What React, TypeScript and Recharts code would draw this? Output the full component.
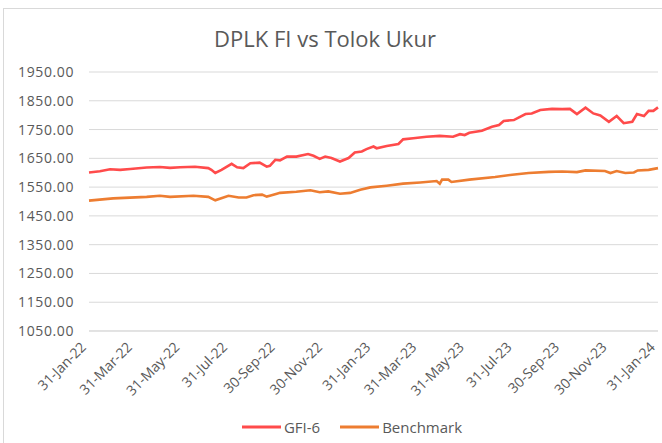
import { LineChart, Line, XAxis, YAxis, CartesianGrid, Legend } from "recharts";

/* ── Data ── */

const gfiDates = [
  "2022-01-31", "2022-02-14", "2022-02-27", "2022-03-12", "2022-03-25", "2022-04-15",
  "2022-05-02", "2022-05-15", "2022-05-28", "2022-06-16", "2022-07-03", "2022-07-07",
  "2022-07-12", "2022-07-20", "2022-08-02", "2022-08-09", "2022-08-17", "2022-08-26",
  "2022-09-07", "2022-09-16", "2022-09-20", "2022-09-27", "2022-10-03", "2022-10-12",
  "2022-10-24", "2022-11-08", "2022-11-15", "2022-11-23", "2022-11-30", "2022-12-08",
  "2022-12-19", "2022-12-30", "2023-01-07", "2023-01-16", "2023-01-22", "2023-01-31",
  "2023-02-04", "2023-02-17", "2023-03-04", "2023-03-10", "2023-03-23", "2023-04-09",
  "2023-04-26", "2023-05-13", "2023-05-22", "2023-05-28", "2023-06-03", "2023-06-19",
  "2023-07-02", "2023-07-11", "2023-07-17", "2023-07-30", "2023-08-14", "2023-08-22",
  "2023-09-02", "2023-09-17", "2023-09-30", "2023-10-10", "2023-10-19", "2023-10-30",
  "2023-11-09", "2023-11-18", "2023-11-29", "2023-12-09", "2023-12-18", "2023-12-29",
  "2024-01-04", "2024-01-13", "2024-01-19", "2024-01-25", "2024-01-31",
];
const gfiValues = [
  1601, 1605, 1612, 1610, 1613, 1618,
  1620, 1617, 1619, 1621, 1616, 1610,
  1599, 1610, 1631, 1619, 1616, 1633,
  1635, 1621, 1624, 1645, 1643, 1656,
  1656, 1665, 1659, 1648, 1656, 1651,
  1639, 1651, 1670, 1674, 1682, 1691,
  1685, 1693, 1700, 1716, 1720, 1725,
  1728, 1725, 1734, 1731, 1739, 1746,
  1760, 1766, 1780, 1783, 1804, 1806,
  1818, 1822, 1821, 1822, 1804, 1826,
  1806, 1799, 1777, 1797, 1772, 1777,
  1804, 1797, 1815, 1815, 1827,
];

const benchDates = [
  "2022-01-31", "2022-03-03", "2022-04-15", "2022-05-02", "2022-05-15", "2022-06-14",
  "2022-07-03", "2022-07-12", "2022-07-29", "2022-08-11", "2022-08-21", "2022-08-30",
  "2022-09-10", "2022-09-16", "2022-09-20", "2022-09-29", "2022-10-03", "2022-10-24",
  "2022-11-11", "2022-11-23", "2022-12-04", "2022-12-19", "2023-01-01", "2023-01-14",
  "2023-01-27", "2023-02-17", "2023-03-10", "2023-04-01", "2023-04-22", "2023-04-26",
  "2023-04-29", "2023-05-07", "2023-05-11", "2023-06-03", "2023-07-06", "2023-07-28",
  "2023-08-18", "2023-09-13", "2023-09-30", "2023-10-19", "2023-10-30", "2023-11-24",
  "2023-12-01", "2023-12-09", "2023-12-20", "2023-12-31", "2024-01-05", "2024-01-19",
  "2024-01-31",
];
const benchValues = [
  1503, 1511, 1516, 1520, 1516, 1520,
  1516, 1504, 1520, 1514, 1514, 1522,
  1524, 1517, 1520, 1527, 1530, 1534,
  1539, 1532, 1535, 1527, 1530, 1541,
  1549, 1555, 1562, 1566, 1571, 1562,
  1576, 1576, 1568, 1576, 1585, 1593,
  1599, 1603, 1604, 1602, 1608, 1606,
  1599, 1606, 1599, 1601, 1608, 1610,
  1616,
];

const tickDates = [
  "2022-01-31", "2022-03-31", "2022-05-31", "2022-07-31", "2022-09-30", "2022-11-30",
  "2023-01-31", "2023-03-31", "2023-05-31", "2023-07-31", "2023-09-30", "2023-11-30",
  "2024-01-31",
];
const tickLabels = [
  "31-Jan-22", "31-Mar-22", "31-May-22", "31-Jul-22", "30-Sep-22", "30-Nov-22",
  "31-Jan-23", "31-Mar-23", "31-May-23", "31-Jul-23", "30-Sep-23", "30-Nov-23",
  "31-Jan-24",
];
const yTicks = [1050, 1150, 1250, 1350, 1450, 1550, 1650, 1750, 1850, 1950];

const SERIES = [
  { name: "GFI-6", color: "#ff4b4b" },
  { name: "Benchmark", color: "#ed7d31" },
];

/* ── helpers ── */

const START = Date.UTC(2022, 0, 31);
function toDay(iso: string) {
  const [y, m, d] = iso.split("-").map(Number);
  return Math.round((Date.UTC(y, m - 1, d) - START) / 86400000);
}

const gfiData = gfiDates.map((d, i) => ({ day: toDay(d), value: gfiValues[i] }));
const benchData = benchDates.map((d, i) => ({ day: toDay(d), value: benchValues[i] }));
const tickDays = tickDates.map(toDay);
const labelByDay: Record<number, string> = {};
tickDays.forEach((d, i) => (labelByDay[d] = tickLabels[i]));

const FONT = "'Open Sans', sans-serif";
const TEXT = "#595959";

function XTick({ x, y, payload }: any) {
  const ax = x - 2;
  const ay = y + 17;
  return (
    <text
      x={ax}
      y={ay}
      textAnchor="end"
      fill={TEXT}
      fontSize={14}
      fontFamily={FONT}
      transform={`rotate(-45 ${ax} ${ay})`}
    >
      {labelByDay[payload.value]}
    </text>
  );
}

function LegendContent() {
  return (
    <div style={{ display: "flex", justifyContent: "center", gap: 20, fontFamily: FONT, fontSize: 15, color: TEXT }}>
      {SERIES.map((s) => (
        <div key={s.name} style={{ display: "flex", alignItems: "center", gap: 3 }}>
          <svg width={39} height={6}>
            <line x1={0} y1={3} x2={39} y2={3} stroke={s.color} strokeWidth={3} />
          </svg>
          <span>{s.name}</span>
        </div>
      ))}
    </div>
  );
}

export default function App() {
  return (
    <div style={{ position: "absolute", left: 0, top: 0, width: 662, height: 443, background: "#fff", overflow: "hidden" }}>
      <div
        style={{
          position: "absolute",
          left: 3,
          top: 8,
          width: 659,
          height: 435,
          borderLeft: "1px solid #d9d9d9",
          borderTop: "1px solid #d9d9d9",
          boxSizing: "border-box",
        }}
      />
      <div
        style={{
          position: "absolute",
          left: 0,
          top: 27,
          width: 650,
          textAlign: "center",
          fontFamily: FONT,
          fontSize: 22,
          lineHeight: "22px",
          color: TEXT,
        }}
      >
        DPLK FI vs Tolok Ukur
      </div>
      <div style={{ position: "absolute", left: 0, top: 0 }}>
        <LineChart width={662} height={443} margin={{ top: 72, right: 4, bottom: 0, left: 0 }}>
          <CartesianGrid vertical={false} stroke="#d9d9d9" strokeWidth={1} />
          <XAxis
            type="number"
            dataKey="day"
            domain={[0, 730]}
            ticks={tickDays}
            interval={0}
            height={112}
            axisLine={{ stroke: "#d9d9d9" }}
            tickLine={false}
            tickSize={0}
            tickMargin={0}
            tick={<XTick />}
            allowDuplicatedCategory={false}
          />
          <YAxis
            domain={[1050, 1950]}
            ticks={yTicks}
            width={89}
            axisLine={false}
            tickLine={false}
            tickSize={0}
            tickMargin={15}
            tickFormatter={(v: number) => v.toFixed(2)}
            tick={{ fill: TEXT, fontSize: 14, fontFamily: FONT, letterSpacing: 0.6 }}
          />
          <Legend
            verticalAlign="middle"
            align="center"
            content={<LegendContent />}
            wrapperStyle={{ top: 417, left: 21, width: 662 }}
          />
          <Line
            data={gfiData}
            dataKey="value"
            name={SERIES[0].name}
            stroke={SERIES[0].color}
            strokeWidth={2.6}
            dot={false}
            isAnimationActive={false}
          />
          <Line
            data={benchData}
            dataKey="value"
            name={SERIES[1].name}
            stroke={SERIES[1].color}
            strokeWidth={2.6}
            dot={false}
            isAnimationActive={false}
          />
        </LineChart>
      </div>
    </div>
  );
}
